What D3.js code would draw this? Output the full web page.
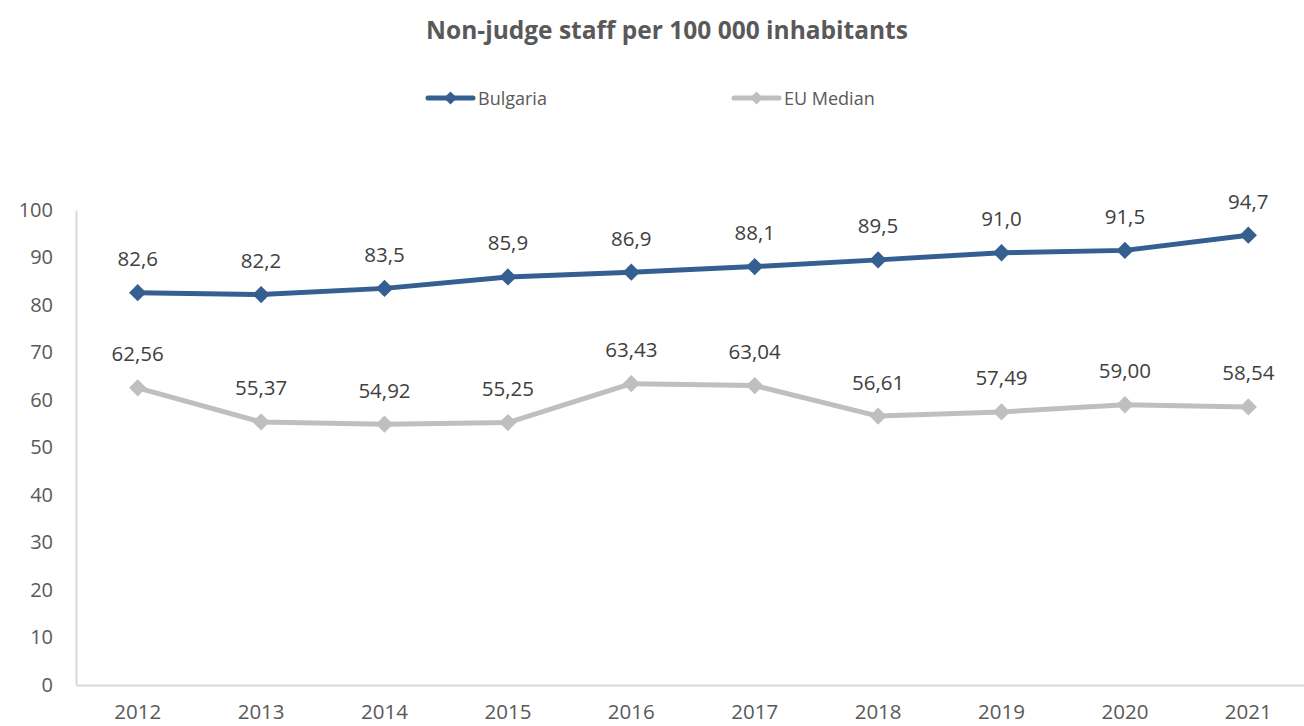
<!DOCTYPE html>
<html><head><meta charset="utf-8">
<script src="https://cdn.jsdelivr.net/npm/d3@7"></script>
<style>body{margin:0;background:#fff;} svg{display:block;}</style>
</head><body>
<svg id="c" width="1304" height="726"></svg>
<script>
const years = ["2012","2013","2014","2015","2016","2017","2018","2019","2020","2021"];
const bulgaria = [82.6,82.2,83.5,85.9,86.9,88.1,89.5,91.0,91.5,94.7];
const bulgariaLabels = ["82,6","82,2","83,5","85,9","86,9","88,1","89,5","91,0","91,5","94,7"];
const euMedian = [62.56,55.37,54.92,55.25,63.43,63.04,56.61,57.49,59.00,58.54];
const euLabels = ["62,56","55,37","54,92","55,25","63,43","63,04","56,61","57,49","59,00","58,54"];
const yTicks = [0,10,20,30,40,50,60,70,80,90,100];
const seriesNames = ["Bulgaria","EU Median"];
const seriesColors = ["#355E91","#BFBFBF"];

(function(){
const font = "'Open Sans', sans-serif";
const svg = d3.select("#c");
const pLeft = 76, pRight = 1310, pTop = 210, pBottom = 685;
const x = d3.scaleBand().domain(years).range([pLeft, pRight]);
const y = d3.scaleLinear().domain([0,100]).range([pBottom, pTop]);

svg.append("text").attr("x", 667).attr("y", 39).attr("text-anchor","middle")
  .attr("font-family", font).attr("font-weight","bold").attr("font-size", 24.5)
  .attr("fill","#595959").text("Non-judge staff per 100 000 inhabitants");

const yAxis = svg.append("g").attr("transform",`translate(${pLeft},0)`)
  .call(d3.axisLeft(y).tickValues(yTicks).tickSize(0).tickPadding(23));
yAxis.select(".domain").attr("stroke","#D9D9D9").attr("stroke-width",2);
yAxis.selectAll("text").attr("font-family", font).attr("font-size",20).attr("fill","#595959");

const xAxis = svg.append("g").attr("transform",`translate(0,${pBottom})`)
  .call(d3.axisBottom(x).tickSize(0).tickPadding(19));
xAxis.select(".domain").attr("stroke","#D9D9D9").attr("stroke-width",2);
xAxis.selectAll("text").attr("font-family", font).attr("font-size",20.5).attr("fill","#595959");

const cx = d => x(d) + x.bandwidth()/2;
const diamond = d3.symbol().type(d3.symbolDiamond2).size(190);

function drawSeries(vals, labels, color){
  const pts = years.map((yr,i)=>[cx(yr), y(vals[i])]);
  svg.append("path").attr("d", d3.line()(pts)).attr("fill","none")
    .attr("stroke", color).attr("stroke-width",5).attr("stroke-linejoin","round").attr("stroke-linecap","round");
  svg.append("g").selectAll("path").data(pts).join("path")
    .attr("transform", d=>`translate(${d[0]},${d[1]})`).attr("d", diamond).attr("fill", color);
  svg.append("g").selectAll("text").data(pts).join("text")
    .attr("x", d=>d[0]).attr("y", d=>d[1]-26.5).attr("text-anchor","middle")
    .attr("font-family", font).attr("font-size",20.5).attr("fill","#404040")
    .text((d,i)=>labels[i]);
}
drawSeries(euMedian, euLabels, seriesColors[1]);
drawSeries(bulgaria, bulgariaLabels, seriesColors[0]);

const legX = [426, 732];
seriesNames.forEach((n,i)=>{
  const g = svg.append("g").attr("transform",`translate(${legX[i]},98)`);
  g.append("line").attr("x1",2).attr("x2",47).attr("y1",0).attr("y2",0)
    .attr("stroke", seriesColors[i]).attr("stroke-width",5).attr("stroke-linecap","round");
  g.append("path").attr("transform","translate(24.5,0)").attr("d", d3.symbol().type(d3.symbolDiamond2).size(110)).attr("fill", seriesColors[i]);
  g.append("text").attr("x",52).attr("y",6.5).attr("font-family", font).attr("font-size",18)
    .attr("fill","#595959").text(n);
});
})();
</script>
</body></html>
